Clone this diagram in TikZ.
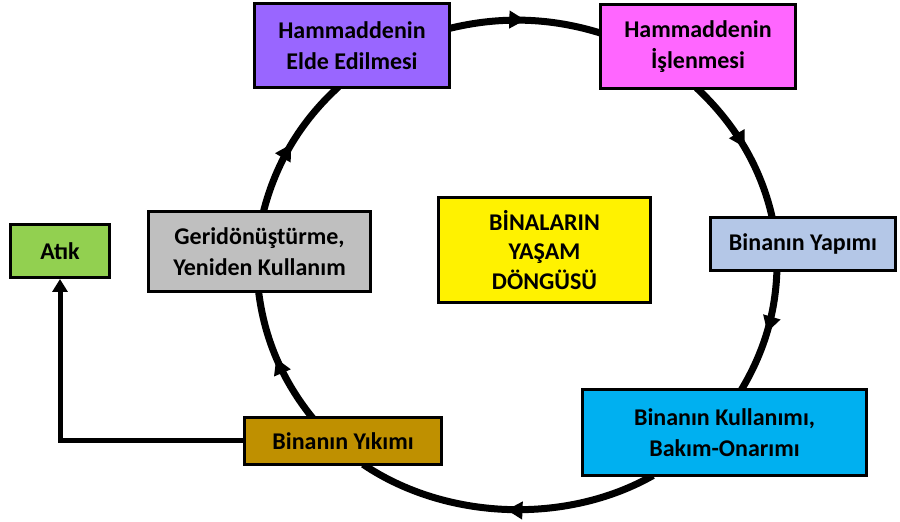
\documentclass[tikz,border=0pt]{standalone}
\usepackage{fontspec}
\setmainfont{Carlito}
\usetikzlibrary{arrows.meta,decorations.markings,backgrounds}
\definecolor{eldecolor}{RGB}{153,102,255}
\definecolor{islencolor}{RGB}{255,102,255}
\definecolor{yapimcolor}{RGB}{180,199,231}
\definecolor{kullanimcolor}{RGB}{0,176,240}
\definecolor{yikimcolor}{RGB}{191,144,0}
\definecolor{gericolor}{RGB}{191,191,191}
\definecolor{atikcolor}{RGB}{146,208,80}
\begin{document}
\begin{tikzpicture}[x=1bp,y=1bp,
    stage/.style 2 args={draw,line width=3bp,align=center,inner sep=0pt,minimum width=#1,minimum height=#2,font=\bfseries\fontsize{24bp}{31bp}\selectfont},
    cycline/.style={line width=7bp,shorten <=-3bp,shorten >=-3bp,postaction={decorate},
      decoration={markings,mark=at position 0.5 with {\arrow{Triangle[length=16bp,width=17bp]}}}}]
    \useasboundingbox (0,0) rectangle (900,522);
    \node[stage={195bp}{84bp},fill=eldecolor] (elde) at (352,476.5) {Hammaddenin\\Elde Edilmesi};
    \node[stage={195bp}{84bp},fill=islencolor] (islen) at (698,475.5) {Hammaddenin\\İşlenmesi};
    \node[stage={185bp}{53bp},fill=yapimcolor] (yapim) at (803,278) {Binanın Yapımı};
    \node[stage={284bp}{86bp},fill=kullanimcolor] (kullanim) at (724.5,89.5) {Binanın Kullanımı,\\Bakım-Onarımı};
    \node[stage={197bp}{47bp},fill=yikimcolor] (yikim) at (343,81) {Binanın Yıkımı};
    \node[stage={222bp}{80bp},fill=gericolor] (geri) at (259.5,270.5) {Geridönüştürme,\\Yeniden Kullanım};
    \node[stage={99bp}{53bp},fill=atikcolor] (atik) at (60,271) {Atık};
    \node[stage={212bp}{105bp},fill=yellow,font=\bfseries\fontsize{24bp}{29.5bp}\selectfont] (dongu) at (544.5,272) {BİNALARIN\\YAŞAM\\DÖNGÜSÜ};
    \begin{scope}[on background layer]
      \foreach \a/\p/\o/\b/\q/\i in {elde/10/14/islen/172/162.5, islen/271/-43/yapim/138/102.4,
          yapim/227/-91.5/kullanim/68/58.9, kullanim/211/209.6/yikim/312/-34.1,
          yikim/142/129/geri/269/-83.4, geri/84/76/elde/250/222.4}
        \draw[cycline] (\a.\p) to[out=\o,in=\i,looseness=0.87] (\b.\q);
    \end{scope}
    \draw[line width=5bp,-{Triangle[length=13bp,width=15bp]}] (yikim.west) -| (atik.south);
\end{tikzpicture}
\end{document}
